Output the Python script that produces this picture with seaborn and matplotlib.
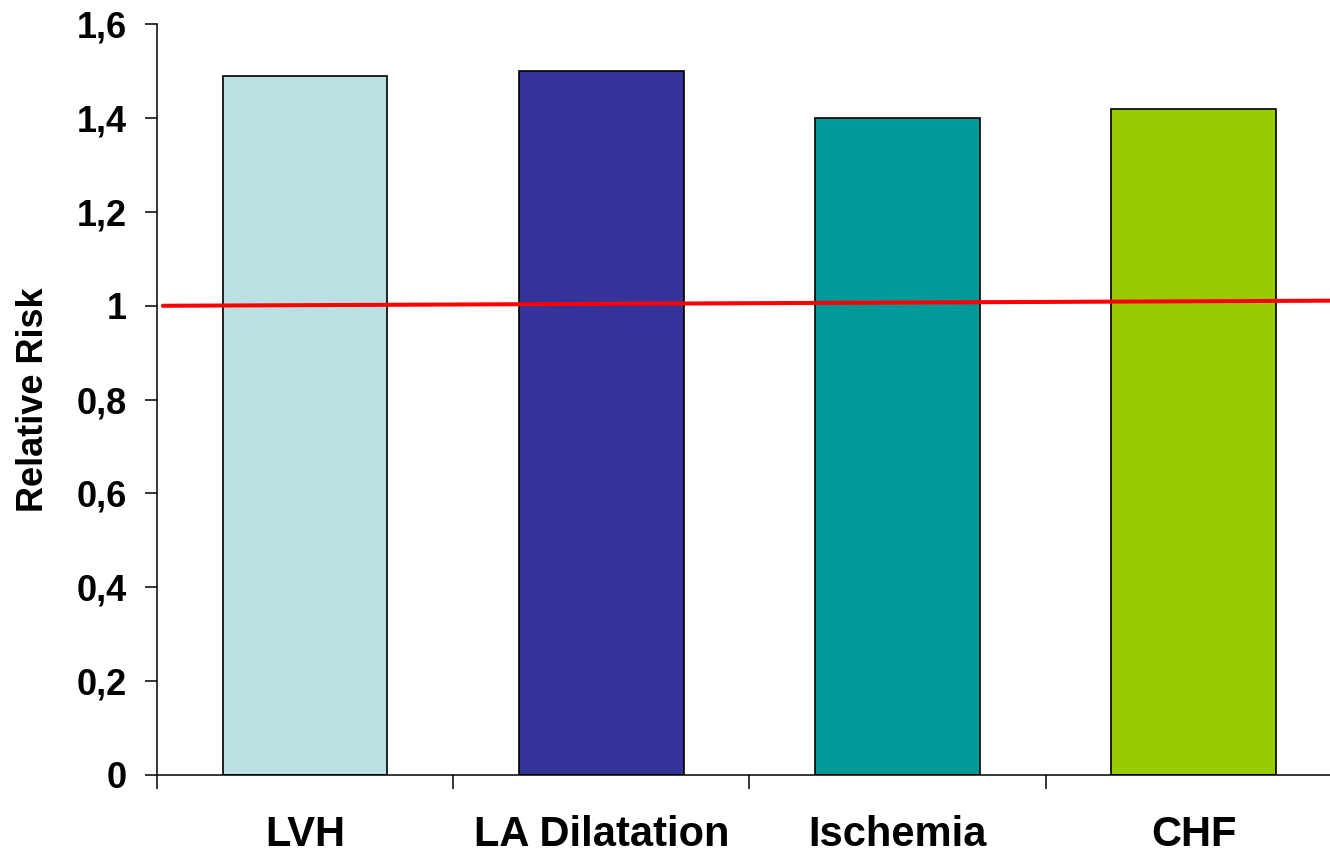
import matplotlib
matplotlib.use("Agg")
import matplotlib.pyplot as plt
from matplotlib.ticker import FixedLocator, FuncFormatter
import seaborn as sns
import pandas as pd

categories = ["LVH", "LA Dilatation", "Ischemia", "CHF"]
relative_risk = [1.49, 1.50, 1.40, 1.42]
bar_colors = ["#BBE0E3", "#333399", "#009999", "#99CC00"]
y_ticks = [0, 0.2, 0.4, 0.6, 0.8, 1.0, 1.2, 1.4, 1.6]
ref_line_x = [-0.48, 3.5]
ref_line_y = [1.0, 1.011]

sns.set_theme(style="white")
plt.rcParams['font.family'] = ['Liberation Sans', 'DejaVu Sans']
plt.rcParams['font.weight'] = 'bold'
plt.rcParams['text.color'] = 'black'
plt.rcParams['axes.labelcolor'] = 'black'
plt.rcParams['xtick.color'] = 'black'
plt.rcParams['ytick.color'] = 'black'

df = pd.DataFrame({"cat": categories, "rr": relative_risk})

fig = plt.figure(figsize=(13.3, 8.57), dpi=100)
ax = fig.add_axes([0.118, 0.0957, 0.891, 0.876])

sns.barplot(data=df, x="cat", y="rr", hue="cat", palette=bar_colors,
            width=0.556, edgecolor="black", linewidth=1.2, legend=False,
            saturation=1, ax=ax)

ax.plot(ref_line_x, ref_line_y, color="#FF0000", linewidth=2.9, clip_on=False, zorder=5)

ax.set_xlim(-0.5, 3.5)
ax.set_ylim(0, 1.6)
ax.set_yticks(y_ticks)
ax.yaxis.set_major_formatter(FuncFormatter(lambda v, p: ("%g" % v).replace(".", ",")))

ax.xaxis.set_minor_locator(FixedLocator([-0.5, 0.5, 1.5, 2.5, 3.5]))
ax.tick_params(axis="x", which="major", length=0, pad=29, labelsize=30, labelcolor="black")
ax.tick_params(axis="x", which="minor", length=10, width=1.1, color="black", direction="out", bottom=True)
ax.tick_params(axis="y", which="major", length=8.6, width=1.1, color="black", direction="out",
               left=True, pad=13, labelsize=26, labelcolor="black")
for lbl in ax.get_xticklabels() + ax.get_yticklabels():
    lbl.set_fontweight("bold")
    lbl.set_color("black")

ax.set_xlabel("")
ax.set_ylabel("Relative Risk", fontsize=26, fontweight="bold", color="black")
ax.yaxis.set_label_coords(-0.089, 0.5)

for s in ["top", "right"]:
    ax.spines[s].set_visible(False)
for s in ["left", "bottom"]:
    ax.spines[s].set_color("black")
    ax.spines[s].set_linewidth(1.1)

fig.savefig("out.png", dpi=100)
